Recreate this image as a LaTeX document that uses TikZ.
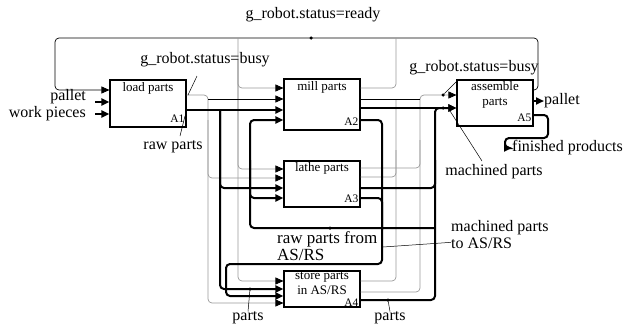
\documentclass[tikz,border=0pt]{standalone}
\usepackage{fontspec}
\setmainfont{Liberation Serif}
\usetikzlibrary{arrows.meta,positioning}

\begin{document}
\begin{tikzpicture}[
    x=1pt, y=-1pt,
    func/.style={draw, line width=1.1pt, minimum width=76pt, inner sep=0pt},
    ftext/.style={font=\fontsize{13}{15}\selectfont, align=center, inner sep=1pt},
    fnum/.style={font=\fontsize{11.5}{12}\selectfont, inner sep=1pt},
    lbl/.style={font=\fontsize{16}{17}\selectfont, inner sep=0pt, align=left},
    stat/.style={gray!80, line width=0.7pt, rounded corners=4pt},
    flow/.style={line width=0.7pt, rounded corners=4pt},
    bulk/.style={line width=2pt, rounded corners=4pt},
    tip/.style={-{Triangle[length=8pt,width=7pt,color=black]}},
    lead/.style={line width=0.5pt},
    dot/.style={circle, fill, inner sep=0pt, minimum size=3.5pt}
  ]
    \useasboundingbox (0,0) rectangle (634,327);

    % activity boxes
    \node[func, minimum height=47pt] (a1) at (148,103.5) {};
    \node[func, minimum height=51pt] (a2) at (322,104.5) {};
    \node[func, minimum height=46pt] (a3) at (322,184) {};
    \node[func, minimum height=36pt] (a4) at (322,289) {};
    \node[func, minimum height=46pt] (a5) at (495,103) {};
    \node[ftext, anchor=north] (t1) at ([yshift=-2pt]a1.north) {load parts};
    \node[ftext, anchor=north] (t2) at ([yshift=-2pt]a2.north) {mill parts};
    \node[ftext, anchor=north] (t3) at ([yshift=-1pt]a3.north) {lathe parts};
    \node[ftext, anchor=north] (t4) at ([yshift=-1pt]a4.north) {store parts\\in AS/RS};
    \node[ftext, anchor=north] (t5) at ([yshift=-1pt]a5.north) {assemble\\parts};
    \node[fnum, anchor=south east] (n1) at ([xshift=-1pt,yshift=4pt]a1.south east) {A1};
    \node[fnum, anchor=south east] (n2) at ([xshift=-1pt,yshift=4pt]a2.south east) {A2};
    \node[fnum, anchor=south east] (n3) at ([xshift=-1pt,yshift=4pt]a3.south east) {A3};
    \node[fnum, anchor=south east] (n4) at ([xshift=-1pt,yshift=0pt]a4.south east) {A4};
    \node[fnum, anchor=south east] (n5) at ([xshift=-1pt,yshift=4pt]a5.south east) {A5};

    % robot ready loop
    \draw[flow, tip] (a5.east |- 0,90) -- (538,90) -- (538,38) -- (55,38) -- (55,90) -- (a1.west |- 0,90);
    \node[dot] (rdy) at (311,38) {};
    \node[lbl] (lrdy) at (313,15) {g\_robot.status=ready};
    \draw[stat, tip] (238,38) -- (238,88) -- (a2.west |- 0,88);
    \draw[stat, tip] (238,60) -- (238,169) -- (a3.west |- 0,169);
    \draw[stat, tip] (238,60) -- (238,281) -- (a4.west |- 0,281);
    \draw[stat] (a2.east |- 0,88) -- (396,88) -- (396,38);
    \draw[stat] (a3.east |- 0,177) -- (396,177) -- (396,100);
    \draw[stat] (a4.east |- 0,281) -- (396,281) -- (396,150);

    % robot busy from A1
    \draw[stat, tip] (a1.east |- 0,95) -- (208,95) -- (208,303) -- (a4.west |- 0,303);
    \draw[flow, tip] (208,99) -- (a2.west |- 0,99);
    \draw[stat, tip] (208,120) -- (208,178) -- (a3.west |- 0,178);

    % robot busy to A5
    \draw[stat, tip] (a4.east |- 0,292) -- (420,292) -- (420,95) -- (a5.west |- 0,95);
    \draw[flow] (a2.east |- 0,99) -- (420,99);
    \draw[stat] (a3.east |- 0,168) -- (420,168) -- (420,140);

    % raw parts
    \draw[bulk, tip] (a1.east |- 0,110) -- (a2.west |- 0,110);
    \draw[bulk, tip] (220,110) -- (220,188) -- (a3.west |- 0,188);
    \draw[bulk, tip] (220,110) -- (220,289) -- (a4.west |- 0,289);

    % raw parts from AS/RS
    \draw[bulk, tip] (435,228) -- (250,228) -- (250,120) -- (a2.west |- 0,120);
    \draw[bulk, tip] (250,160) -- (250,198) -- (a3.west |- 0,198);

    % machined parts
    \draw[bulk, tip] (a2.east |- 0,108) -- (a5.west |- 0,108);
    \draw[bulk, tip] (a4.east |- 0,300) -- (435,300) -- (435,108) -- (a5.west |- 0,108);
    \draw[bulk] (a3.east |- 0,188) -- (435,188) -- (435,160);
    \draw[bulk, tip] (a2.east |- 0,120) -- (382,120) -- (382,264) -- (226,264) -- (226,296) -- (a4.west |- 0,296);
    \draw[bulk] (a3.east |- 0,198) -- (382,198) -- (382,230);

    % external inputs and outputs
    \node[lbl, anchor=east] (pal1) at (86,97) {pallet};
    \node[lbl, anchor=east] (wp) at (86,114) {work pieces};
    \draw[bulk, tip] ([xshift=9pt]pal1.east |- 0,102) -- (a1.west |- 0,102);
    \draw[bulk, tip] ([xshift=9pt]wp.east |- 0,114) -- (a1.west |- 0,114);
    \node[lbl, anchor=west] (pal2) at (544,101) {pallet};
    \draw[bulk, tip] (a5.east |- 0,101) -- (pal2.west);
    \node[lbl, anchor=west] (fp) at (512,148) {finished products};
    \draw[bulk, tip] (a5.east |- 0,115) -- (548,115) -- (548,138) -- (505,138) -- (505,148) -- (fp.west);

    % labels with leaders
    \node[lbl] (busy1) at (205,60) {g\_robot.status=busy};
    \coordinate (b1a) at (197,76);
    \coordinate (b1b) at (188,95);
    \draw[lead] (b1a) -- (b1b);
    \node[lbl] (busy2) at (474,68) {g\_robot.status=busy};
    \node[dot] (d5a) at (443,95) {};
    \coordinate (b2a) at (456,82);
    \draw[lead] (b2a) -- (d5a);
    \node[dot] (d5b) at (443,108) {};
    \node[lbl] (raw) at (173,147) {raw parts};
    \coordinate (r1a) at (180,136);
    \coordinate (r1b) at (185,116);
    \draw[lead] (r1a) -- (r1b);
    \node[lbl] (mach) at (494,172) {machined parts};
    \coordinate (m1a) at (482,161);
    \coordinate (m1b) at (450,111);
    \draw[lead] (m1a) -- (m1b);
    \node[lbl, anchor=north west] (mto) at (451,220) {machined parts\\to AS/RS};
    \coordinate (m2a) at (383,247);
    \draw[lead] (m2a) -- ([yshift=-8pt]mto.west);
    \node[lbl, anchor=north west, font=\fontsize{17}{17}\selectfont] (rfrom) at (277,231) {raw parts from\\AS/RS};
    \node[dot] (draw1) at (330,228) {};
    \node[lbl] (parts1) at (248,318) {parts};
    \node[dot] (dp1) at (250,289) {};
    \draw[lead] (dp1) -- (parts1.north);
    \node[lbl] (parts2) at (390,318) {parts};
    \node[dot] (dp2) at (388,300) {};
    \draw[lead] (dp2) -- (parts2.north);
  \end{tikzpicture}
\end{document}
